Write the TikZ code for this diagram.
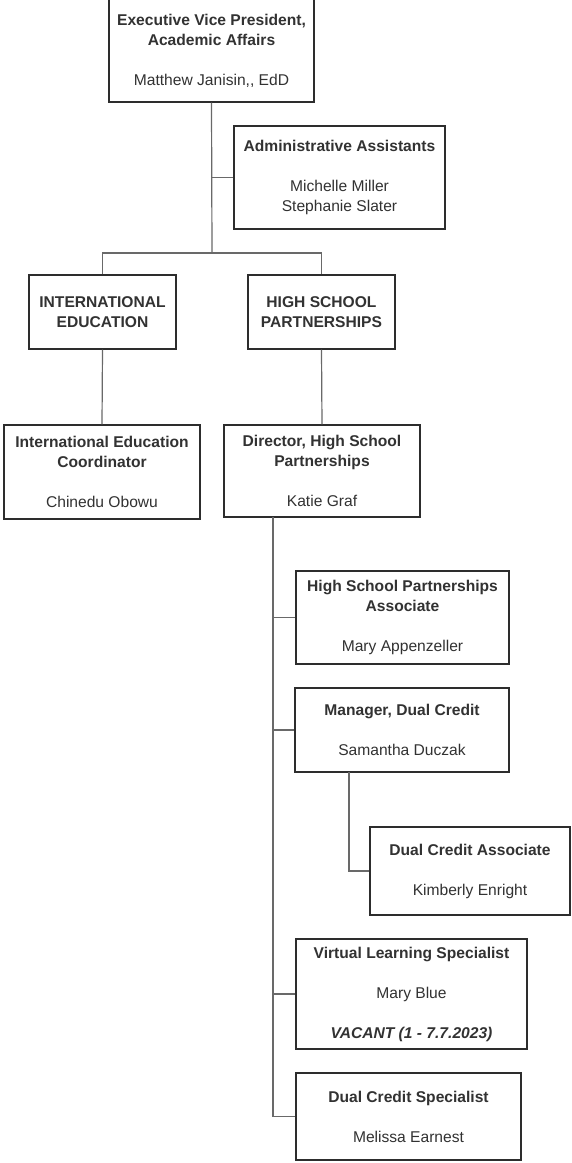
\documentclass[tikz,border=0pt]{standalone}
\usepackage{fontspec}
\setmainfont{Liberation Sans}
\usepackage{xcolor}
\usepackage{tikz}
\usetikzlibrary{positioning,calc}
\definecolor{boxline}{RGB}{45, 45, 45}
\definecolor{linkline}{RGB}{105, 105, 105}
\definecolor{ink}{RGB}{50, 50, 50}
\tikzset{
    orgbox/.style={draw=boxline, line width=1.3pt, fill=white, text=ink, align=center,
        inner sep=0pt, font=\fontsize{15.6}{20}\selectfont},
    link/.style={draw=linkline, line width=1.2pt}
}

\begin{document}
\begin{tikzpicture}[x=1pt, y=-1pt]
    \useasboundingbox (0,0) rectangle (571,1163);
    % top of the chart
    \node[orgbox, minimum width=205, minimum height=103] (evp) at (211.5, 50.5)
        {\textbf{Executive Vice President,}\\\textbf{Academic Affairs}\\[20pt]Matthew Janisin,{}, EdD};
    \node[orgbox, minimum width=211, minimum height=103] (admin) at (339.5, 177.5)
        {\textbf{Administrative Assistants}\\[20pt]Michelle Miller\\Stephanie Slater};
    % the two units
    \node[orgbox, minimum width=147, minimum height=74] (intl) at (102.5, 312)
        {\textbf{INTERNATIONAL}\\\textbf{EDUCATION}};
    \node[orgbox, minimum width=147, minimum height=74] (hsp) at (321.5, 312)
        {\textbf{HIGH SCHOOL}\\\textbf{PARTNERSHIPS}};
    \node[orgbox, minimum width=196, minimum height=94] (intlco) at (102, 472)
        {\textbf{International Education}\\\textbf{Coordinator}\\[20pt]Chinedu Obowu};
    \node[orgbox, minimum width=196, minimum height=92] (hspdir) at (322, 471)
        {\textbf{Director, High School}\\\textbf{Partnerships}\\[20pt]Katie Graf};
    % staff under the director
    \node[orgbox, minimum width=213, minimum height=93] (hspassoc) at (402.5, 617.5)
        {\textbf{High School Partnerships}\\\textbf{Associate}\\[20pt]Mary Appenzeller};
    \node[orgbox, minimum width=214, minimum height=84] (dcmgr) at (402, 730)
        {\textbf{Manager, Dual Credit}\\[20pt]Samantha Duczak};
    \node[orgbox, minimum width=200, minimum height=88] (dcassoc) at (470, 871)
        {\textbf{Dual Credit Associate}\\[20pt]Kimberly Enright};
    \node[orgbox, minimum width=231, minimum height=110] (vls) at (411.5, 994)
        {\textbf{Virtual Learning Specialist}\\[20pt]Mary Blue\\[20pt]\textbf{\textit{VACANT (1 - 7.7.2023)}}};
    \node[orgbox, minimum width=225, minimum height=87] (dcspec) at (408.5, 1116.5)
        {\textbf{Dual Credit Specialist}\\[20pt]Melissa Earnest};
    % connectors
    \coordinate (bus) at (212, 253);
    \coordinate (dirtrunk) at (273, 517);
    \coordinate (mgrtrunk) at (349, 772);
    \draw[link] (evp.south) -- (bus);
    \draw[link] (evp.south) |- (admin.west);
    \draw[link] (intl.north) |- (bus) -| (hsp.north);
    \draw[link] (intl.south) -- (intlco.north);
    \draw[link] (hsp.south) -- (hspdir.north);
    \draw[link] (dirtrunk) |- (hspassoc.west);
    \draw[link] (dirtrunk) |- (dcmgr.west);
    \draw[link] (dirtrunk) |- (vls.west);
    \draw[link] (dirtrunk) |- (dcspec.west);
    \draw[link] (mgrtrunk) |- (dcassoc.west);
\end{tikzpicture}
\end{document}
